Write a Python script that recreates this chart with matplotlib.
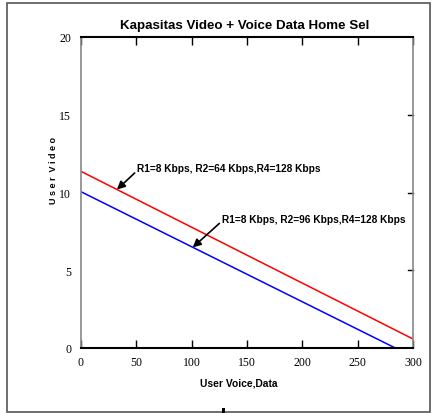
import matplotlib
matplotlib.use('Agg')
from matplotlib import pyplot as plt
from matplotlib.patches import Rectangle

# data
x_red = [0, 300]
y_red = [11.36, 0.58]
x_blue = [0, 284]
y_blue = [10.05, 0]
x_ticks = [0, 50, 100, 150, 200, 250, 300]
y_ticks = [0, 5, 10, 15, 20]
label_red = "R1=8 Kbps, R2=64 Kbps,R4=128 Kbps"
label_blue = "R1=8 Kbps, R2=96 Kbps,R4=128 Kbps"

sans = ['Liberation Sans Narrow', 'Liberation Sans', 'DejaVu Sans']
serif = ['Liberation Serif', 'DejaVu Serif']

fig = plt.figure(figsize=(4.34, 4.14), dpi=100)
W, H = 434, 414

# outer frame
fig.patches.append(Rectangle((7 / W, 1 - 413 / H), 423 / W, 409 / H, transform=fig.transFigure,
                             fill=False, edgecolor='#555555', linewidth=1.2))
# small mark at bottom
fig.patches.append(Rectangle((222 / W, 1 - 414 / H), 3 / W, 5 / H, transform=fig.transFigure,
                             facecolor='black', edgecolor='none'))

ax = fig.add_axes([81 / W, 1 - 349 / H, 332 / W, 311 / H])
ax.plot(x_red, y_red, color='#ff0000', linewidth=1.1)
ax.plot(x_blue, y_blue, color='#0000ff', linewidth=1.1)
ax.set_xlim(0, 300)
ax.set_ylim(0, 20)
ax.set_xticks(x_ticks)
ax.set_yticks(y_ticks)
ax.tick_params(axis='x', direction='in', top=True, length=6, width=1, pad=6, labelsize=8.5)
ax.tick_params(axis='y', direction='out', right=False, length=4, width=1, pad=3, labelsize=8.5)
for t in ax.yaxis.get_major_ticks():
    if t.get_loc() in (0, 20):
        t.tick1line.set_visible(False)
for lab in ax.get_xticklabels() + ax.get_yticklabels():
    lab.set_family(serif)
# right side ticks point inward
for yt in y_ticks[1:-1]:
    ax.plot([1, 0.985], [yt / 20, yt / 20], transform=ax.transAxes, color='black',
            linewidth=1, clip_on=False)
for name in ['bottom', 'top']:
    ax.spines[name].set_linewidth(1.5)
    ax.spines[name].set_color('black')
for name in ['left', 'right']:
    ax.spines[name].set_linewidth(1.2)
    ax.spines[name].set_color('#888888')

ax.annotate(label_red, xy=(32.5, 10.19), xytext=(51, 11.55), fontsize=7.3, fontweight='bold',
            family=sans, va='center', ha='left',
            arrowprops=dict(arrowstyle='-|>', color='black', lw=1.2, mutation_scale=12,
                            shrinkA=0, shrinkB=0, relpos=(0, 0.3)))
ax.annotate(label_blue, xy=(101, 6.47), xytext=(127.5, 8.3), fontsize=7.3, fontweight='bold',
            family=sans, va='center', ha='left',
            arrowprops=dict(arrowstyle='-|>', color='black', lw=1.2, mutation_scale=12,
                            shrinkA=0, shrinkB=0, relpos=(0, 0.3)))

fig.text(245 / W, 1 - 26 / H, "Kapasitas Video + Voice Data Home Sel", fontsize=9.6,
         fontweight='bold', family=sans, ha='center', va='center')
fig.text(239 / W, 1 - 384 / H, "User Voice,Data", fontsize=7.4, fontweight='bold',
         family=sans, ha='center', va='center')
fig.text(53 / W, 1 - 170 / H, "U s e r  V i d e o", fontsize=6.5, fontweight='bold',
         family=sans, ha='center', va='center', rotation=90)

fig.savefig('out.png', dpi=100)
